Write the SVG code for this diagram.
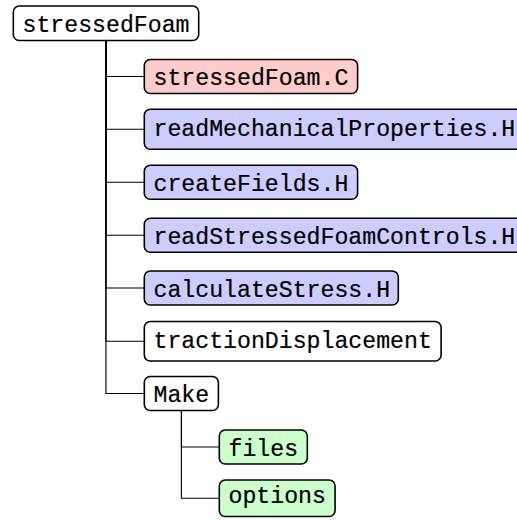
<svg xmlns="http://www.w3.org/2000/svg" width="517" height="520" viewBox="0 0 517 520">
<style>
.box{stroke:#000;stroke-width:1.6}
.plain{fill:#fff}
.red{fill:#ffcccc}
.blue{fill:#ccccff}
.green{fill:#ccffcc}
text{font-family:"Liberation Mono","DejaVu Sans Mono",monospace;font-size:23.2px;fill:#000;stroke:#000;stroke-width:0.2}
.edge{fill:none;stroke:#000;stroke-width:1.1}
</style>
<rect width="517" height="520" fill="#fff"/>
<g id="connectors">
<path class="edge" d="M105.9,40.5 V76.5 H144.3"/>
<path class="edge" d="M105.9,40.5 V129.3 H144.3"/>
<path class="edge" d="M105.9,40.5 V182.3 H144.3"/>
<path class="edge" d="M105.9,40.5 V235.3 H144.3"/>
<path class="edge" d="M105.9,40.5 V288 H144.3"/>
<path class="edge" d="M105.9,40.5 V341.2 H144.3"/>
<path class="edge" d="M105.9,40.5 V393.5 H144.3"/>
<path class="edge" d="M181.4,410.5 V447 H219.3"/>
<path class="edge" d="M181.4,410.5 V498.2 H219.3"/>
</g>
<g id="stressedFoam">
<rect class="box plain" x="13.3" y="6" width="185.4" height="34.5" rx="6"/>
<text x="22.5" y="31.5">stressedFoam</text>
</g>
<g id="stressedFoamC">
<rect class="box red" x="144.3" y="59.5" width="213.3" height="34" rx="6"/>
<text x="153.5" y="85">stressedFoam.C</text>
</g>
<g id="readMechanicalProperties">
<rect class="box blue" x="144.3" y="109.3" width="380.3" height="40" rx="6"/>
<text x="153.5" y="135.5">readMechanicalProperties.H</text>
</g>
<g id="createFields">
<rect class="box blue" x="144.3" y="165.3" width="213.3" height="34" rx="6"/>
<text x="153.5" y="191">createFields.H</text>
</g>
<g id="readStressedFoamControls">
<rect class="box blue" x="144.3" y="218.3" width="380.3" height="34" rx="6"/>
<text x="153.5" y="244">readStressedFoamControls.H</text>
</g>
<g id="calculateStress">
<rect class="box blue" x="144.3" y="271" width="254" height="34" rx="6"/>
<text x="153.5" y="296.7">calculateStress.H</text>
</g>
<g id="tractionDisplacement">
<rect class="box plain" x="144.3" y="321.5" width="296.8" height="39.5" rx="6"/>
<text x="153.5" y="347.5">tractionDisplacement</text>
</g>
<g id="Make">
<rect class="box plain" x="144.3" y="376.5" width="74.1" height="34" rx="6"/>
<text x="153.5" y="402">Make</text>
</g>
<g id="files">
<rect class="box green" x="219.3" y="430" width="88" height="34" rx="6"/>
<text x="228.5" y="455.7">files</text>
</g>
<g id="options">
<rect class="box green" x="219.3" y="480" width="115.8" height="36.5" rx="6"/>
<text x="228.5" y="502.8">options</text>
</g>
</svg>
